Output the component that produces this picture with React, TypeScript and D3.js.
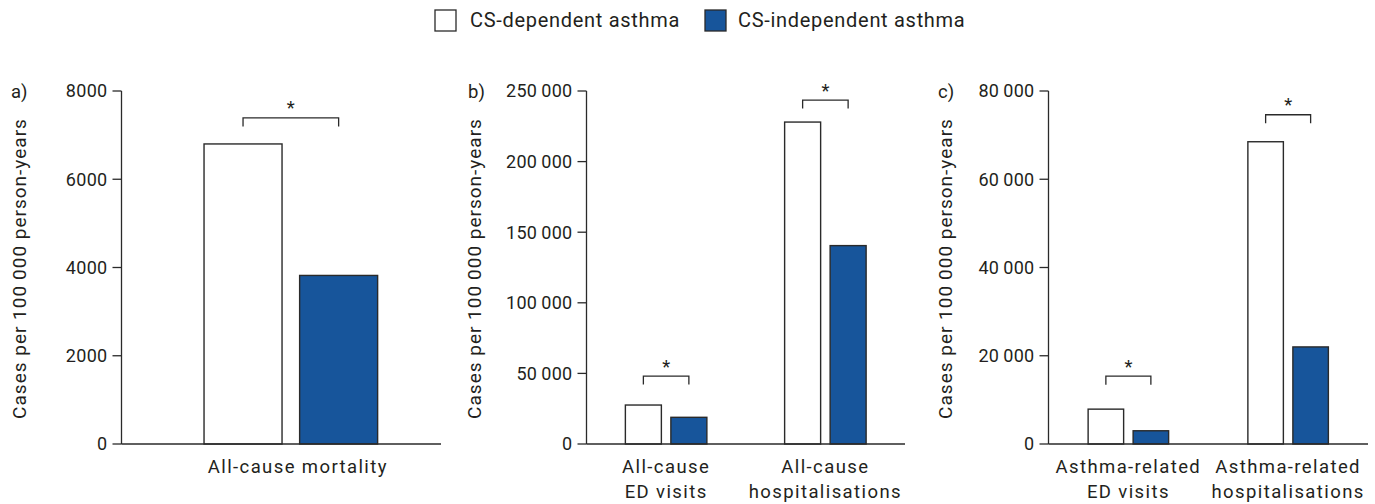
import React from "react";
import * as d3 from "d3";

// Series
const seriesNames = ["CS-dependent asthma", "CS-independent asthma"];
const seriesFill = ["#ffffff", "#17559b"];

// a) mortality
const aLetter = "a)";
const aCategories = [["All-cause mortality"]];
const aDependent = [6800];
const aIndependent = [3820];
const aTicks = [0, 2000, 4000, 6000, 8000];
const aSignificant = [true];

// b) all-cause healthcare use
const bLetter = "b)";
const bCategories = [
  ["All-cause", "ED visits"],
  ["All-cause", "hospitalisations"],
];
const bDependent = [27600, 228000];
const bIndependent = [18900, 140500];
const bTicks = [0, 50000, 100000, 150000, 200000, 250000];
const bSignificant = [true, true];

// c) asthma-related healthcare use
const cLetter = "c)";
const cCategories = [
  ["Asthma-related", "ED visits"],
  ["Asthma-related", "hospitalisations"],
];
const cDependent = [7900, 68500];
const cIndependent = [3000, 22000];
const cTicks = [0, 20000, 40000, 60000, 80000];
const cSignificant = [true, true];

const yTitle = "Cases per 100\u2009000 person-years";

const FONT = "Roboto, 'DejaVu Sans', sans-serif";
const INK = "#231f20";
const LINE = "#2a2a2a";

const thin = d3.formatLocale({
  decimal: ".",
  thousands: "\u2009",
  grouping: [3],
  currency: ["", ""],
});
const fmtGrouped = thin.format(",d");
const fmtTick = (v: number) => (v >= 10000 ? fmtGrouped(v) : String(v));

type PanelProps = {
  letter: string;
  categories: string[][];
  dependent: number[];
  independent: number[];
  ticks: number[];
  significant: boolean[];
  bracketGap: number[];
  axisX: number;
  axisEnd: number;
  align: number;
  barW: number;
  gap: number;
  labelDx: number;
  letterX: number;
  titleX: number;
};

const TOP = 91;
const BOTTOM = 444;

function Panel(p: PanelProps) {
  const y = d3
    .scaleLinear()
    .domain([0, p.ticks[p.ticks.length - 1]])
    .range([BOTTOM, TOP]);
  const x = d3
    .scalePoint<number>()
    .domain(p.categories.map((_, i) => i))
    .range([p.axisX, p.axisEnd])
    .padding(0.5)
    .align(p.align);
  const inner = d3
    .scaleBand<number>()
    .domain([0, 1])
    .range([-(p.barW + p.gap / 2), p.barW + p.gap / 2])
    .paddingInner(p.gap / (p.barW + p.gap));

  return (
    <g>
      <text x={p.letterX} y={98} fontSize={18.5} fill={INK} fontFamily={FONT}>
        {p.letter}
      </text>
      <text
        transform={`translate(${p.titleX},${(TOP + BOTTOM) / 2 + 1}) rotate(-90)`}
        textAnchor="middle"
        fontSize={19}
        letterSpacing={1}
        fill={INK}
        fontFamily={FONT}
      >
        {yTitle}
      </text>
      {p.ticks.map((t) => (
        <g key={t} transform={`translate(0,${y(t)})`}>
          <line x1={p.axisX - 9} x2={p.axisX} stroke={LINE} strokeWidth={1.3} />
          <text
            x={p.axisX - 14}
            dy="0.36em"
            textAnchor="end"
            fontSize={18}
            letterSpacing={0.3}
            fill={INK}
            fontFamily={FONT}
          >
            {fmtTick(t)}
          </text>
        </g>
      ))}
      {p.categories.map((lines, i) => {
        const cx = x(i)!;
        const vals = [p.dependent[i], p.independent[i]];
        const centers = vals.map((_, k) => cx + inner(k)! + inner.bandwidth() / 2);
        const topY = Math.min(...vals.map((v) => y(v)));
        const by = topY - p.bracketGap[i];
        return (
          <g key={i}>
            {vals.map((v, k) => (
              <rect
                key={k}
                x={cx + inner(k)!}
                y={y(v)}
                width={inner.bandwidth()}
                height={BOTTOM - y(v)}
                fill={seriesFill[k]}
                stroke={LINE}
                strokeWidth={1.4}
              />
            ))}
            {p.significant[i] && (
              <g>
                <path
                  d={`M${centers[0]},${by + 8.5}V${by}H${centers[1]}V${by + 8.5}`}
                  fill="none"
                  stroke={LINE}
                  strokeWidth={1.3}
                />
                <text
                  x={(centers[0] + centers[1]) / 2}
                  y={by - 3.5}
                  textAnchor="middle"
                  fontSize={18.5}
                  fill={INK}
                  fontFamily={FONT}
                >
                  *
                </text>
              </g>
            )}
            {lines.map((ln, j) => (
              <text
                key={j}
                x={cx + p.labelDx}
                y={473 + j * 25}
                textAnchor="middle"
                fontSize={18.5}
                letterSpacing={1.4}
                fill={INK}
                fontFamily={FONT}
              >
                {ln}
              </text>
            ))}
          </g>
        );
      })}
      <line x1={p.axisX} x2={p.axisX} y1={TOP} y2={BOTTOM} stroke={LINE} strokeWidth={1.3} />
      <line x1={p.axisX} x2={p.axisEnd} y1={BOTTOM} y2={BOTTOM} stroke={LINE} strokeWidth={1.3} />
    </g>
  );
}

function Legend() {
  const items = [
    { sx: 435, tx: 470 },
    { sx: 705, tx: 738 },
  ];
  return (
    <g>
      {seriesNames.map((name, i) => (
        <g key={name}>
          <rect
            x={items[i].sx}
            y={10}
            width={21}
            height={21}
            fill={seriesFill[i]}
            stroke={LINE}
            strokeWidth={1.3}
          />
          <text
            x={items[i].tx}
            y={27}
            fontSize={20}
            letterSpacing={0.7}
            fill={INK}
            fontFamily={FONT}
          >
            {name}
          </text>
        </g>
      ))}
    </g>
  );
}

export default function App() {
  return (
    <svg
      width={1375}
      height={504}
      style={{ position: "absolute", left: 0, top: 0, background: "#fff" }}
    >
      <Legend />
      <Panel
        letter={aLetter}
        categories={aCategories}
        dependent={aDependent}
        independent={aIndependent}
        ticks={aTicks}
        significant={aSignificant}
        bracketGap={[26]}
        axisX={121.5}
        axisEnd={441}
        align={0.53}
        barW={78}
        gap={17.6}
        labelDx={7}
        letterX={11}
        titleX={26}
      />
      <Panel
        letter={bLetter}
        categories={bCategories}
        dependent={bDependent}
        independent={bIndependent}
        ticks={bTicks}
        significant={bSignificant}
        bracketGap={[29, 22]}
        axisX={586.5}
        axisEnd={905}
        align={0.5}
        barW={36}
        gap={9.5}
        labelDx={0}
        letterX={468}
        titleX={481}
      />
      <Panel
        letter={cLetter}
        categories={cCategories}
        dependent={cDependent}
        independent={cIndependent}
        ticks={cTicks}
        significant={cSignificant}
        bracketGap={[33, 27]}
        axisX={1048.5}
        axisEnd={1368}
        align={0.5}
        barW={35.5}
        gap={9.5}
        labelDx={0}
        letterX={938}
        titleX={952}
      />
    </svg>
  );
}
